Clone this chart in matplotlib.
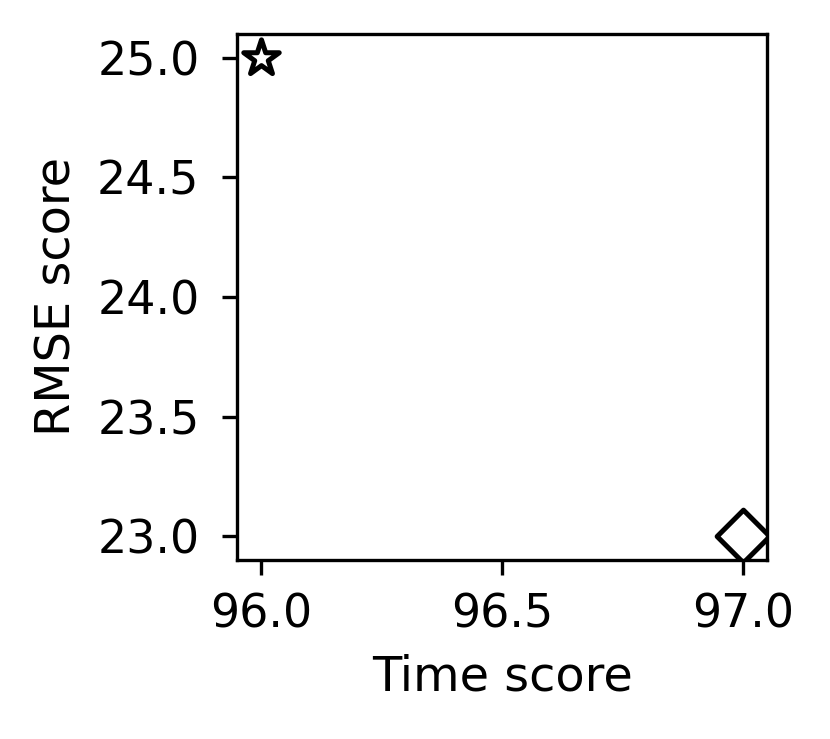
import matplotlib
matplotlib.use("Agg")
import matplotlib.pyplot as plt

time_scores = [96.0, 97.0]
rmse_scores = [25.0, 23.0]
markers = ["*", "D"]

plt.rcParams["xtick.labelsize"] = 11
plt.rcParams["ytick.labelsize"] = 11
plt.rcParams["axes.labelsize"] = 11.5
plt.rcParams["ytick.major.pad"] = 5.5
plt.rcParams["xtick.major.pad"] = 4.2

fig = plt.figure(figsize=(830/300, 739/300), dpi=300)
ax = fig.add_axes([237/830, 1-560/739, (767-237)/830, (560-34)/739])
for x, y, m in zip(time_scores, rmse_scores, markers):
    ax.scatter([x], [y], marker=m, s=80, facecolors="white", edgecolors="black", linewidths=1.2)
ax.set_xlabel("Time score")
ax.set_ylabel("RMSE score")
ax.set_xticks([96.0, 96.5, 97.0])
ax.set_yticks([23.0, 23.5, 24.0, 24.5, 25.0])
fig.savefig("out.png", dpi=300)
